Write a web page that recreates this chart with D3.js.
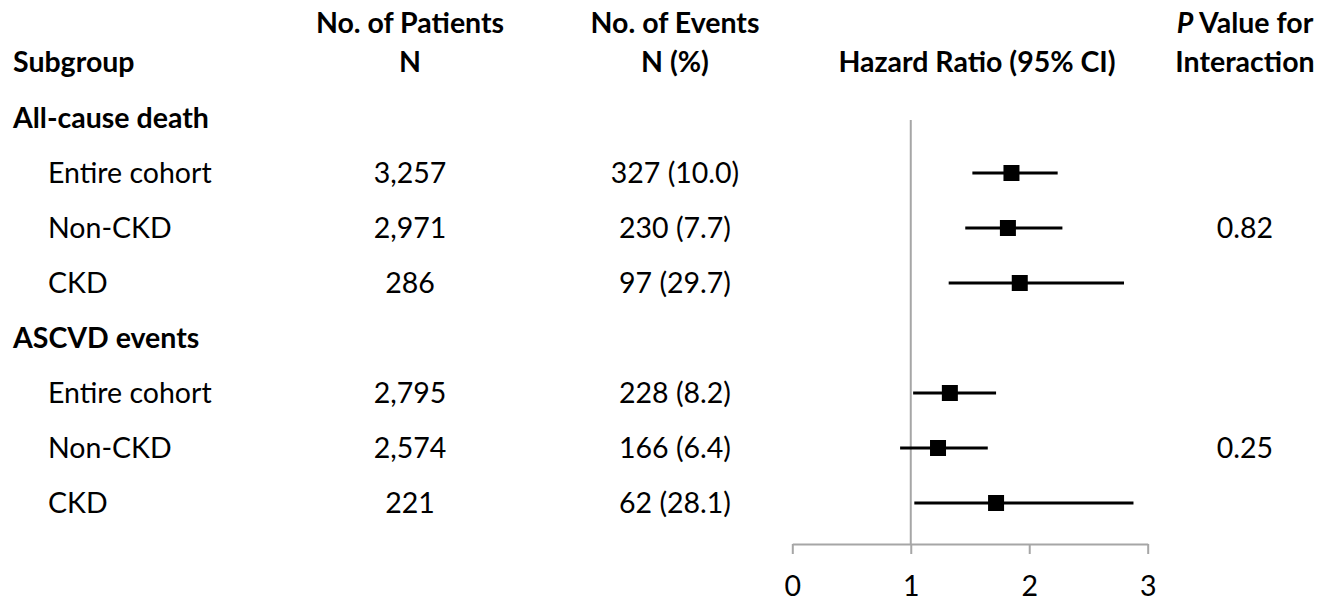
<!DOCTYPE html>
<html>
<head>
<meta charset="utf-8">
<script src="https://cdn.jsdelivr.net/npm/d3@7"></script>
<style>
  html, body { margin: 0; padding: 0; background: #fff; }
  svg text { font-family: Lato, "Open Sans", sans-serif; fill: #000; }
</style>
</head>
<body>
<svg id="chart" width="1340" height="603"></svg>
<script>
// Forest plot: hazard ratios by CKD status for two outcomes
const outcomes = ["All-cause death", "ASCVD events"];
const subgroups = ["Entire cohort", "Non-CKD", "CKD"];
const patients = ["3,257", "2,971", "286", "2,795", "2,574", "221"];
const events = ["327 (10.0)", "230 (7.7)", "97 (29.7)", "228 (8.2)", "166 (6.4)", "62 (28.1)"];
const hr = [1.85, 1.82, 1.92, 1.33, 1.23, 1.72];
const ciLower = [1.52, 1.46, 1.32, 1.02, 0.91, 1.03];
const ciUpper = [2.24, 2.28, 2.80, 1.72, 1.65, 2.88];
const pInteraction = ["0.82", "0.25"];
const xTicks = [0, 1, 2, 3];

const svg = d3.select("#chart");
const fs = 28.5;

// Build table rows: an outcome header followed by its subgroups
const rows = [];
outcomes.forEach((o, oi) => {
  rows.push({ type: "header", label: o });
  subgroups.forEach((s, si) => {
    const k = oi * subgroups.length + si;
    rows.push({
      type: "item", label: s, n: patients[k], ev: events[k],
      hr: hr[k], lo: ciLower[k], hi: ciUpper[k],
      p: si === 1 ? pInteraction[oi] : null
    });
  });
});

const y = d3.scaleLinear().domain([0, rows.length - 1]).range([118, 503]);
const x = d3.scaleLinear().domain([0, 3]).range([792.3, 1147.7]);
const axisY = 544;

const colN = 410, colEv = 675, colHR = 977, colP = 1245;

// Column headers
const hdr = svg.append("g").attr("font-weight", "bold").attr("font-size", fs);
hdr.append("text").attr("x", 13).attr("y", 62).attr("dy", "0.35em").text("Subgroup");
hdr.append("text").attr("x", colN).attr("y", 23).attr("dy", "0.35em").attr("text-anchor", "middle").text("No. of Patients");
hdr.append("text").attr("x", colN).attr("y", 62).attr("dy", "0.35em").attr("text-anchor", "middle").text("N");
hdr.append("text").attr("x", colEv).attr("y", 23).attr("dy", "0.35em").attr("text-anchor", "middle").text("No. of Events");
hdr.append("text").attr("x", colEv).attr("y", 62).attr("dy", "0.35em").attr("text-anchor", "middle").text("N (%)");
hdr.append("text").attr("x", colHR).attr("y", 62).attr("dy", "0.35em").attr("text-anchor", "middle").text("Hazard Ratio (95% CI)");
const pv = hdr.append("text").attr("x", colP).attr("y", 23).attr("dy", "0.35em").attr("text-anchor", "middle");
pv.append("tspan").attr("font-style", "italic").text("P");
pv.append("tspan").text(" Value for");
hdr.append("text").attr("x", colP).attr("y", 62).attr("dy", "0.35em").attr("text-anchor", "middle").text("Interaction");

// Table body
const body = svg.append("g").attr("font-size", fs);
rows.forEach((r, i) => {
  const yy = y(i);
  if (r.type === "header") {
    body.append("text").attr("x", 13).attr("y", yy).attr("dy", "0.35em")
      .attr("font-weight", "bold").text(r.label);
  } else {
    body.append("text").attr("x", 48).attr("y", yy).attr("dy", "0.35em").text(r.label);
    body.append("text").attr("x", colN).attr("y", yy).attr("dy", "0.35em").attr("text-anchor", "middle").text(r.n);
    body.append("text").attr("x", colEv).attr("y", yy).attr("dy", "0.35em").attr("text-anchor", "middle").text(r.ev);
    if (r.p) body.append("text").attr("x", colP).attr("y", yy).attr("dy", "0.35em").attr("text-anchor", "middle").text(r.p);
  }
});

// Reference line at HR = 1
svg.append("line")
  .attr("x1", x(1)).attr("x2", x(1))
  .attr("y1", 120).attr("y2", axisY)
  .attr("stroke", "#a6a6a6").attr("stroke-width", 2);

// Axis
const axis = svg.append("g").attr("transform", `translate(0,${axisY})`)
  .call(d3.axisBottom(x).tickValues(xTicks).tickSize(10).tickSizeOuter(0).tickPadding(22).tickFormat(d3.format("d")));
axis.select(".domain").attr("stroke", "#a6a6a6").attr("stroke-width", 2);
axis.selectAll(".tick line").attr("stroke", "#a6a6a6").attr("stroke-width", 2);
axis.selectAll(".tick text").attr("font-size", fs).attr("font-family", "Lato, sans-serif").attr("fill", "#000");

// Confidence intervals and point estimates
const items = rows.map((r, i) => ({ ...r, i })).filter(r => r.type === "item");
svg.append("g").selectAll("line").data(items).join("line")
  .attr("x1", d => x(d.lo)).attr("x2", d => x(d.hi))
  .attr("y1", d => y(d.i)).attr("y2", d => y(d.i))
  .attr("stroke", "#000").attr("stroke-width", 3);
const sq = 16;
svg.append("g").selectAll("rect").data(items).join("rect")
  .attr("x", d => x(d.hr) - sq / 2).attr("y", d => y(d.i) - sq / 2)
  .attr("width", sq).attr("height", sq).attr("fill", "#000");
</script>
</body>
</html>
